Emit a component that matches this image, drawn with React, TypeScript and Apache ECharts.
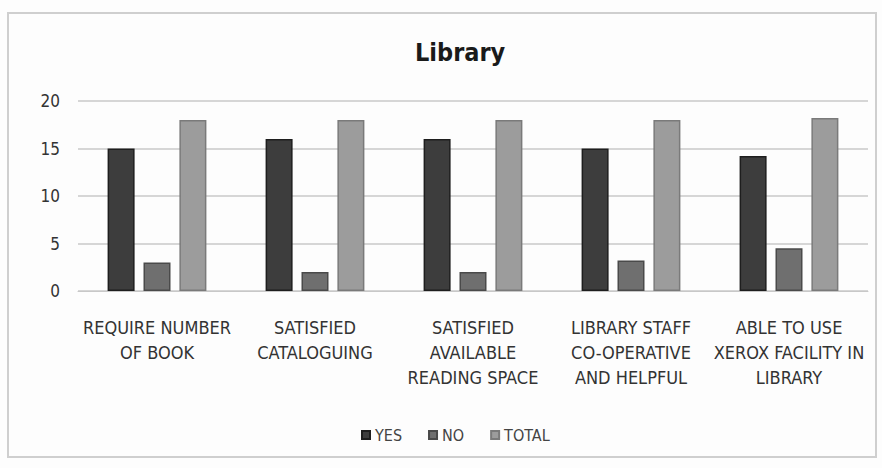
import React, { useEffect, useRef } from "react";
import * as echarts from "echarts";

const categories = [
  "REQUIRE NUMBER\nOF BOOK",
  "SATISFIED\nCATALOGUING",
  "SATISFIED\nAVAILABLE\nREADING SPACE",
  "LIBRARY STAFF\nCO-OPERATIVE\nAND HELPFUL",
  "ABLE TO USE\nXEROX FACILITY IN\nLIBRARY",
];
const yesValues = [15, 16, 16, 15, 14.2];
const noValues = [3, 2, 2, 3.2, 4.5];
const totalValues = [18, 18, 18, 18, 18.2];
const seriesNames = ["YES", "NO", "TOTAL"];

const FONT = "'DejaVu Sans Condensed', 'Liberation Sans Narrow', 'Open Sans', sans-serif";

export default function App() {
  const ref = useRef<HTMLDivElement>(null);
  useEffect(() => {
    if (!ref.current) return;
    const chart = echarts.init(ref.current, undefined, { renderer: "svg" });
    const mk = (name: string, data: number[], color: string, border: string) => ({
      name,
      type: "bar",
      data,
      barWidth: 27,
      barGap: "33%",
      itemStyle: { color, borderColor: border, borderWidth: 1.5 },
    });
    chart.setOption({
      animation: false,
      backgroundColor: "#fdfdfd",
      title: {
        text: "Library",
        left: 410,
        top: 35,
        textStyle: { fontFamily: FONT, fontSize: 25, fontWeight: "bold", color: "#1a1a1a" },
      },
      legend: {
        top: 422,
        left: 356,
        itemWidth: 8,
        itemHeight: 8,
        itemGap: 26,
        icon: "rect",
        textStyle: { fontFamily: FONT, fontSize: 16, color: "#444" },
        data: seriesNames,
      },
      grid: { left: 78, right: 14, top: 101, bottom: 177 },
      xAxis: {
        type: "category",
        data: categories,
        axisLine: { show: true, lineStyle: { color: "#c8c8c8" } },
        axisTick: { show: false },
        axisLabel: {
          interval: 0,
          margin: 24,
          fontFamily: FONT,
          fontSize: 18,
          lineHeight: 25,
          color: "#333",
        },
      },
      yAxis: {
        type: "value",
        min: 0,
        max: 20,
        interval: 5,
        axisLine: { show: false },
        axisTick: { show: false },
        splitLine: { lineStyle: { color: "#c8c8c8", width: 1.5 } },
        axisLabel: { fontFamily: FONT, fontSize: 17, color: "#333", margin: 18 },
      },
      graphic: [
        {
          type: "rect",
          shape: { x: 8, y: 13, width: 868, height: 444 },
          style: { fill: "none", stroke: "#cfcfcf", lineWidth: 2 },
          silent: true,
        },
      ],
      series: [
        mk(seriesNames[0], yesValues, "#3d3d3d", "#1e1e1e"),
        mk(seriesNames[1], noValues, "#6f6f6f", "#4a4a4a"),
        mk(seriesNames[2], totalValues, "#9c9c9c", "#7a7a7a"),
      ],
    });
    return () => chart.dispose();
  }, []);
  return (
    <div
      ref={ref}
      style={{ position: "fixed", left: 0, top: 0, width: 882, height: 468 }}
    />
  );
}
